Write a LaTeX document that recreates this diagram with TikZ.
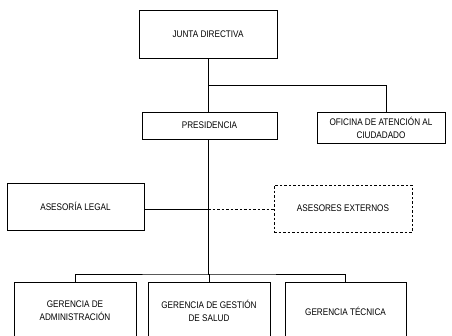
\documentclass[tikz,border=0pt]{standalone}
\usepackage{fontspec}
\setmainfont[FakeStretch=0.85]{Liberation Sans}
\usetikzlibrary{positioning}

\begin{document}
\begin{tikzpicture}[x=1pt, y=-1pt, line width=1pt,
    unit/.style={draw, rectangle, inner sep=2pt, align=center, font=\fontsize{9.6}{12.8}\selectfont},
    extunit/.style={unit, dashed, dash pattern=on 2.5pt off 2pt}]
                % Frame
                \useasboundingbox (0,0) rectangle (452,335);
                \clip (0,0) rectangle (452,335);

                % Boxes
                \node[unit, minimum width=138pt, minimum height=48pt] (junta) at (208,34) {JUNTA DIRECTIVA};
                \node[unit, minimum width=135pt, minimum height=27pt] (pres) at (209.5,125.5) {PRESIDENCIA};
                \node[unit, minimum width=128pt, minimum height=31pt] (ofic) at (381,127.5) {OFICINA DE ATENCIÓN AL\\CIUDADADO};
                \node[unit, minimum width=137pt, minimum height=47pt] (legal) at (75.5,206.5) {ASESORÍA LEGAL};
                \node[extunit, minimum width=138pt, minimum height=47pt] (externos) at (343,208.5) {ASESORES EXTERNOS};
                \node[unit, minimum width=122pt, minimum height=58pt] (admin) at (75,311) {GERENCIA DE\\ADMINISTRACIÓN};
                \node[unit, minimum width=122pt, minimum height=58pt] (salud) at (209,311) {GERENCIA DE GESTIÓN\\DE SALUD};
                \node[unit, minimum width=121pt, minimum height=58pt] (tecnica) at (345.5,311) {GERENCIA TÉCNICA};

                % Connectors
                \coordinate (rama) at (208,85);
                \coordinate (eje) at (208,209);
                \coordinate (barra) at (208,274);
                \draw (junta.south) -- (junta.south |- pres.north);
                \draw (rama) -| ([xshift=5pt]ofic.north);
                \draw (pres.south -| junta.south) -- (barra);
                \draw (eje -| legal.east) -- (eje);
                \draw[dashed, dash pattern=on 2.5pt off 2pt] (eje) -- (eje -| externos.west);
                \draw (admin.north) |- (barra) -| (tecnica.north);
                \draw (barra) -- (barra -| salud.north) -- (salud.north);
\end{tikzpicture}
\end{document}
